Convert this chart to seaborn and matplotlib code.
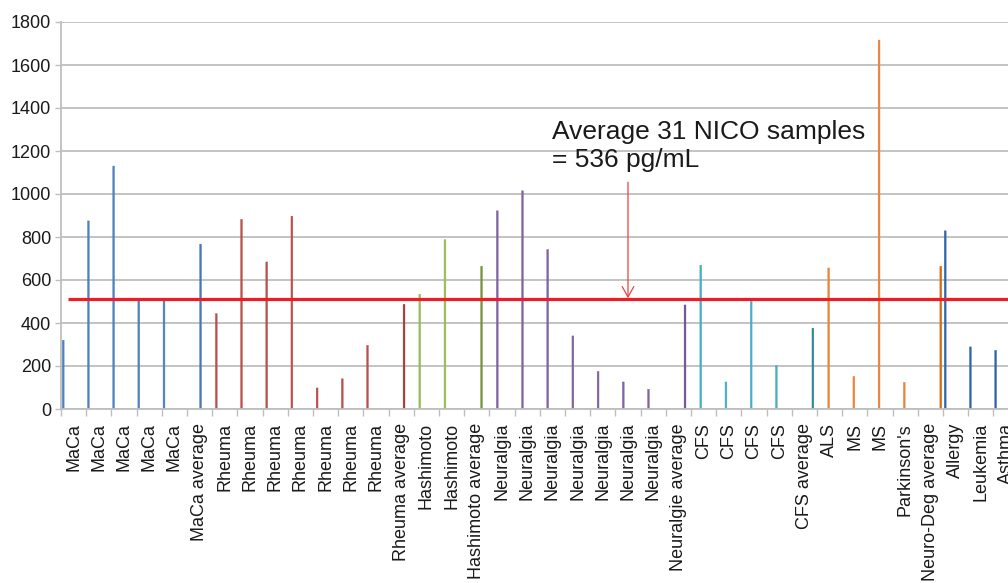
import numpy as np
import pandas as pd
import matplotlib
matplotlib.use("Agg")
import matplotlib.pyplot as plt
import seaborn as sns

# ---------------- data ----------------
categories = (["MaCa"] * 5 + ["MaCa average"] + ["Rheuma"] * 7 + ["Rheuma average"]
              + ["Hashimoto"] * 2 + ["Hashimoto average"] + ["Neuralgia"] * 7
              + ["Neuralgie average"] + ["CFS"] * 4 + ["CFS average"]
              + ["ALS", "MS", "MS", "Parkinson's", "Neuro-Deg average"]
              + ["Allergy", "Leukemia", "Asthma"])

values = [320, 875, 1130, 510, 510, 767,
          444, 882, 684, 897, 98, 141, 296, 487,
          534, 788, 664,
          922, 1015, 742, 340, 175, 126, 92, 484,
          669, 126, 501, 203, 376,
          656, 152, 1716, 124, 664,
          829, 289, 273]

series = (["MaCa"] * 5 + ["MaCa avg"] + ["Rheuma"] * 7 + ["Rheuma avg"]
          + ["Hashimoto"] * 2 + ["Hashimoto avg"] + ["Neuralgia"] * 7
          + ["Neuralgie avg"] + ["CFS"] * 4 + ["CFS avg"]
          + ["Neuro-Deg"] * 4 + ["Neuro-Deg avg"]
          + ["Other"] * 3)

series_order = ["MaCa", "Rheuma", "Hashimoto", "Neuralgia", "CFS", "Neuro-Deg",
                "MaCa avg", "Rheuma avg", "Hashimoto avg", "Neuralgie avg",
                "CFS avg", "Neuro-Deg avg"]
series_colors = ["#4F81BD", "#B9504D", "#9BBB59", "#7F64A2", "#4BACC6", "#E8843E",
                 "#4676B6", "#A63C3A", "#76923C", "#6E5593", "#31859C", "#D46A1C"]
other_color = "#2F64A6"

avg_line_value = 512
avg_text = "Average 31 NICO samples\n= 536 pg/mL"
arrow_x, arrow_top, arrow_bottom = 22.0, 1055, 515
text_x, text_y = 19.0, 1344
yticks = list(range(0, 1801, 200))

# ---------------- figure ----------------
sns.set_style("white")
plt.rcParams["font.family"] = ["Liberation Sans", "DejaVu Sans"]

W, H = 1008, 583
fig = plt.figure(figsize=(W / 100, H / 100), dpi=100)
n = len(categories)
cat_w = 25.2
ax = fig.add_axes([61 / W, 174 / H, n * cat_w / W, 387 / H])

df = pd.DataFrame({"pos": range(n), "value": values, "series": series})
main = df[df["series"] != "Other"]
other = df[df["series"] == "Other"]

sns.barplot(data=main, x="pos", y="value", hue="series", hue_order=series_order,
            order=list(range(n)), palette=dict(zip(series_order, series_colors)),
            width=0.9, dodge=True, saturation=1, legend=False, ax=ax, errorbar=None)

other_order = ["Other"] + series_order[1:]
other_pal = dict(zip(other_order, [other_color] + series_colors[1:]))
sns.barplot(data=other, x="pos", y="value", hue="series", hue_order=other_order,
            order=list(range(n)), palette=other_pal,
            width=0.9, dodge=True, saturation=1, legend=False, ax=ax, errorbar=None)

for p in ax.patches:
    p.set_snap(False)
    p.set_edgecolor(p.get_facecolor())
    p.set_linewidth(0.25)

ax.set_xlim(-0.5, n - 0.5)
ax.set_ylim(0, 1800)
ax.set_xlabel("")
ax.set_ylabel("")

# grid
ax.set_yticks(yticks)
ax.yaxis.grid(True, color="#BEBEBE", linewidth=1.3)
ax.xaxis.grid(False)
ax.set_axisbelow(True)

# ticks
ax.set_xticks(range(n))
ax.set_xticklabels(categories, rotation=90, fontsize=13, color="#1a1a1a")
ax.set_xticks(np.arange(-0.5, n, 1), minor=True)
ax.tick_params(axis="x", which="major", length=0, pad=10)
ax.tick_params(axis="x", which="minor", length=5, color="#BEBEBE", width=1, direction="out")
ax.tick_params(axis="y", length=4, color="#BEBEBE", width=1, pad=3,
               labelsize=13, labelcolor="#1a1a1a", direction="out")
ax.xaxis.set_ticks_position("bottom")
ax.yaxis.set_ticks_position("left")

for s in ["top", "right"]:
    ax.spines[s].set_visible(False)
for s in ["left", "bottom"]:
    ax.spines[s].set_color("#BEBEBE")
    ax.spines[s].set_linewidth(1.3)

# average line + annotation
ax.hlines(avg_line_value, -0.23, n + 5, color="#EE1C25", linewidth=2.3, zorder=5)
ax.annotate("", xy=(arrow_x, arrow_bottom), xytext=(arrow_x, arrow_top),
            arrowprops=dict(arrowstyle="->,head_length=0.75,head_width=0.42",
                            color="#F04040", lw=0.9, shrinkA=0, shrinkB=0,
                            mutation_scale=10), zorder=6)
ax.text(text_x, text_y, avg_text, fontsize=19, color="#1a1a1a",
        ha="left", va="top", linespacing=1.2)

fig.savefig("out.png", dpi=100)
